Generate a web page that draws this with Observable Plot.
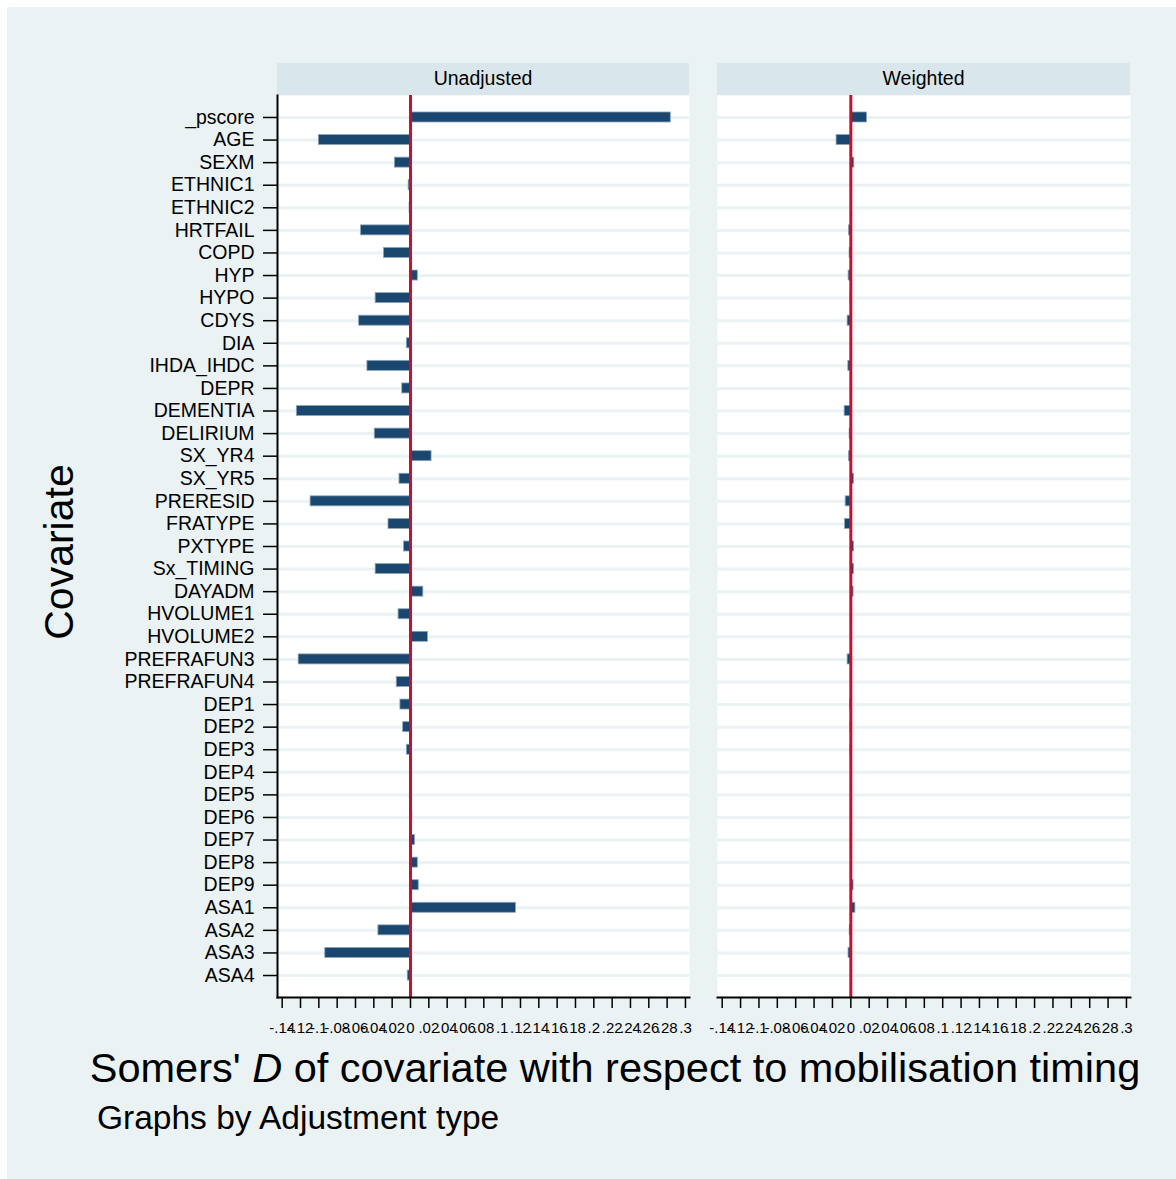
<!DOCTYPE html>
<html>
<head>
<meta charset="utf-8">
<script src="https://cdn.jsdelivr.net/npm/d3@7"></script>
<script src="https://cdn.jsdelivr.net/npm/@observablehq/plot@0.6"></script>
<style>
  html, body { margin: 0; padding: 0; background: #ffffff; }
  body { width: 1176px; height: 1179px; position: relative; overflow: hidden;
         font-family: "Liberation Sans", Arial, Helvetica, sans-serif; }
  #bg { position: absolute; left: 7px; top: 7px; width: 1169px; height: 1172px; background: #eaf2f3; }
  .strip { position: absolute; top: 63px; height: 32px; background: #d9e6eb; color: #000;
           font-size: 19.5px; line-height: 31px; text-align: center; }
  .plot { position: absolute; top: 95px; }
  #ytitle { position: absolute; left: 59px; top: 552px; transform: translate(-50%, -50%) rotate(-90deg);
            font-size: 41px; white-space: nowrap; color: #000; }
  #xtitle { position: absolute; left: 615px; top: 1068px; transform: translate(-50%, -50%);
            font-size: 41.5px; white-space: nowrap; color: #000; }
  #note { position: absolute; left: 97px; top: 1118px; transform: translateY(-50%);
          font-size: 33.5px; white-space: nowrap; color: #000; }
</style>
</head>
<body>
<div id="bg"></div>
<div class="strip" style="left:277px;width:412px;">Unadjusted</div>
<div class="strip" style="left:717px;width:413px;">Weighted</div>
<div id="left" class="plot" style="left:0px;"></div>
<div id="right" class="plot" style="left:700px;"></div>
<div id="ytitle">Covariate</div>
<div id="xtitle">Somers' <i>D</i> of covariate with respect to mobilisation timing</div>
<div id="note">Graphs by Adjustment type</div>
<script>
const covariates = ["_pscore","AGE","SEXM","ETHNIC1","ETHNIC2","HRTFAIL","COPD","HYP","HYPO","CDYS",
  "DIA","IHDA_IHDC","DEPR","DEMENTIA","DELIRIUM","SX_YR4","SX_YR5","PRERESID","FRATYPE","PXTYPE",
  "Sx_TIMING","DAYADM","HVOLUME1","HVOLUME2","PREFRAFUN3","PREFRAFUN4","DEP1","DEP2","DEP3","DEP4",
  "DEP5","DEP6","DEP7","DEP8","DEP9","ASA1","ASA2","ASA3","ASA4"];

const unadjusted = [0.284,-0.100,-0.017,-0.002,-0.001,-0.054,-0.029,0.008,-0.038,-0.056,
  -0.004,-0.047,-0.009,-0.124,-0.039,0.023,-0.012,-0.109,-0.024,-0.007,
  -0.038,0.014,-0.013,0.019,-0.122,-0.015,-0.011,-0.008,-0.004,-0.0005,
  -0.0005,0.002,0.005,0.008,0.009,0.115,-0.035,-0.093,-0.003];

const weighted = [0.0177,-0.0155,0.0038,0.0002,0.0002,-0.002,-0.0013,-0.0024,-0.0005,-0.0035,
  0.0002,-0.0027,0.0002,-0.0067,-0.0013,-0.002,0.0035,-0.0056,-0.0063,0.0035,
  0.0035,0.003,0.0002,0.0002,-0.0035,0.0002,-0.001,-0.0005,-0.0005,0.0002,
  0.0002,0.001,0.0015,0.0002,0.003,0.005,-0.0012,-0.0025,0.0002];

const xTicks = [-0.14,-0.12,-0.1,-0.08,-0.06,-0.04,-0.02,0,0.02,0.04,0.06,0.08,0.1,
  0.12,0.14,0.16,0.18,0.2,0.22,0.24,0.26,0.28,0.3];

const xDomain = [-0.1451, 0.3044];

const fmt = d => {
  if (Math.abs(d) < 1e-9) return "0";
  return String(+d.toFixed(2)).replace("0.", ".");
};

const navy = "#1a476f";
const red = "#c8102e";

function makePlot(values, showY, marginLeft, marginRight) {
  const data = covariates.map((c, i) => ({covariate: c, value: values[i]}));
  const width = marginLeft + (showY ? 412 : 413) + marginRight;
  return Plot.plot({
    width,
    height: 902 + 60,
    marginTop: 0,
    marginBottom: 60,
    marginLeft,
    marginRight,
    style: {background: "transparent", fontFamily: '"Liberation Sans", Arial, sans-serif', color: "#000", overflow: "visible"},
    x: {domain: xDomain, label: null},
    y: {type: "band", domain: covariates, paddingInner: 0.557, paddingOuter: 0.752, align: 0.5, round: false, label: null, axis: null},
    marks: [
      Plot.frame({fill: "#ffffff", stroke: null}),
      Plot.gridY({stroke: "#eaf2f3", strokeOpacity: 1, strokeWidth: 3}),
      Plot.barX(data, {y: "covariate", x1: 0, x2: "value", fill: navy, stroke: "#8ea5b9", strokeWidth: 0.8}),
      Plot.ruleX([0], {stroke: red, strokeWidth: 3}),
      showY ? Plot.axisY({tickSize: 14, tickPadding: 9, fontSize: 19.5, strokeWidth: 1.5, label: null}) : null,
      showY ? Plot.frame({anchor: "left", stroke: "#000", strokeWidth: 2}) : null,
      Plot.frame({anchor: "bottom", stroke: "#000", strokeWidth: 2}),
      Plot.axisX({ticks: xTicks, tickFormat: fmt, tickSize: 11, tickPadding: 14, fontSize: 15, strokeWidth: 1.5, label: null})
    ]
  });
}

document.getElementById("left").appendChild(makePlot(unadjusted, true, 277, 11));
document.getElementById("right").appendChild(makePlot(weighted, false, 17, 46));
</script>
</body>
</html>
